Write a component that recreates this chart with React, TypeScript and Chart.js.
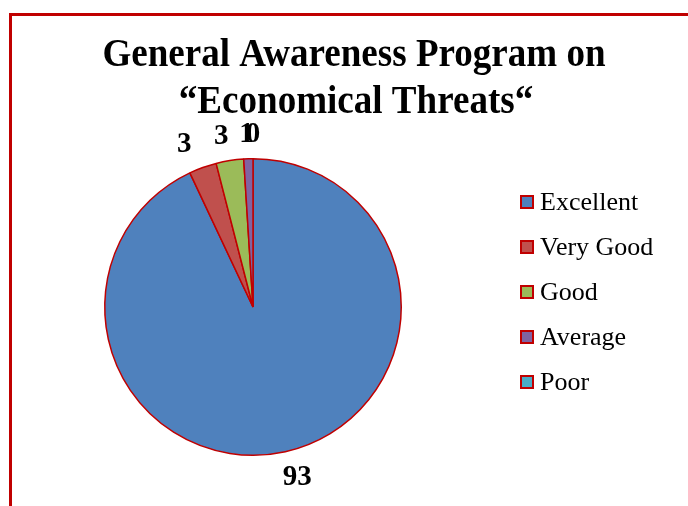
import React, { useEffect, useRef } from "react";
import { Chart, registerables } from "chart.js";

Chart.register(...registerables);

const titleLines = ["General Awareness Program on", "\u201CEconomical Threats\u201C"];
const categories = ["Excellent", "Very Good", "Good", "Average", "Poor"];
const values = [93, 3, 3, 1, 0];
const colors = ["#4F81BD", "#C0504D", "#9BBB59", "#8064A2", "#4BACC6"];
const borderRed = "#C00000";

const textPlugin = {
  id: "textPlugin",
  afterDraw(chart: any) {
    const ctx = chart.ctx;
    ctx.save();
    // title (slightly condensed, as in the reference)
    ctx.fillStyle = "#000";
    ctx.font = "bold 39px 'Liberation Serif'";
    ctx.textAlign = "center";
    ctx.textBaseline = "alphabetic";
    const sx = 0.95;
    ctx.save();
    ctx.scale(sx, 1);
    ctx.fillText(titleLines[0], 354 / sx, 66);
    ctx.fillText(titleLines[1], 356 / sx, 113);
    ctx.restore();

    // data labels
    const meta = chart.getDatasetMeta(0);
    ctx.textBaseline = "middle";
    ctx.font = "bold 29px 'Liberation Serif'";
    meta.data.forEach((arc: any, i: number) => {
      const { x, y, startAngle, endAngle, outerRadius } = arc.getProps(
        ["x", "y", "startAngle", "endAngle", "outerRadius"],
        true
      );
      const mid = (startAngle + endAngle) / 2;
      const ux = Math.cos(mid);
      const uy = Math.sin(mid);
      const R = outerRadius + 25;
      ctx.fillText(String(values[i]), x + ux * R + ux * 30, y + uy * R + 1);
    });

    // legend
    ctx.textAlign = "left";
    ctx.font = "26px 'Liberation Serif'";
    categories.forEach((c, i) => {
      const cy = 202 + i * 45;
      ctx.fillStyle = colors[i];
      ctx.fillRect(521, cy - 6, 12, 12);
      ctx.strokeStyle = borderRed;
      ctx.lineWidth = 2;
      ctx.strokeRect(521, cy - 6, 12, 12);
      ctx.fillStyle = "#000";
      ctx.fillText(c, 540, cy + 1);
    });
    ctx.restore();
  },
};

export default function App() {
  const ref = useRef<HTMLCanvasElement>(null);
  useEffect(() => {
    if (!ref.current) return;
    const chart = new Chart(ref.current, {
      type: "pie",
      data: {
        labels: categories,
        datasets: [
          {
            data: values,
            backgroundColor: colors,
            borderColor: borderRed,
            borderWidth: 1.5,
          },
        ],
      },
      options: {
        animation: false,
        responsive: false,
        maintainAspectRatio: false,
        layout: { padding: { left: 104, top: 158, right: 286, bottom: 50 } },
        plugins: {
          legend: { display: false },
          title: { display: false },
          tooltip: { enabled: false },
        },
      },
      plugins: [textPlugin],
    });
    return () => chart.destroy();
  }, []);
  return (
    <div style={{ position: "fixed", left: 0, top: 0, width: 688, height: 506, overflow: "hidden", background: "#fff" }}>
      <div
        style={{
          position: "absolute",
          left: 9,
          top: 13,
          width: 688 - 12,
          height: 506 - 16,
          borderTop: `3px solid ${borderRed}`,
          borderLeft: `3px solid ${borderRed}`,
        }}
      />
      <canvas ref={ref} width={688} height={506} style={{ position: "absolute", left: 0, top: 0 }} />
    </div>
  );
}
